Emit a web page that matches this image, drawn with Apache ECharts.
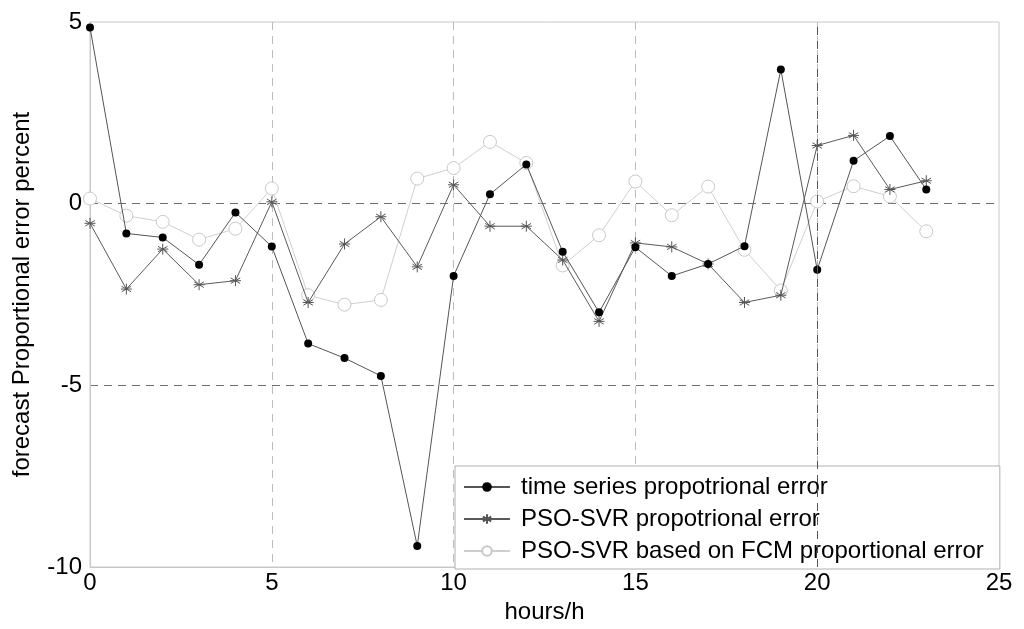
<!DOCTYPE html>
<html><head><meta charset="utf-8">
<script src="https://cdn.jsdelivr.net/npm/echarts@6/dist/echarts.min.js"></script>
<style>html,body{margin:0;padding:0;background:#fff}#c{width:1024px;height:629px}</style>
</head><body><div id="c"></div>
<script>
const hours = [0,1,2,3,4,5,6,7,8,9,10,11,12,13,14,15,16,17,18,19,20,21,22,23];
const timeSeries = [4.85,-0.82,-0.93,-1.68,-0.24,-1.18,-3.85,-4.25,-4.74,-9.42,-1.99,0.26,1.08,-1.32,-2.99,-1.2,-1.99,-1.66,-1.17,3.69,-1.82,1.18,1.86,0.39];
const psoSvr = [-0.54,-2.35,-1.25,-2.23,-2.12,0.05,-2.72,-1.11,-0.36,-1.74,0.52,-0.62,-0.62,-1.55,-3.24,-1.08,-1.19,-1.66,-2.72,-2.52,1.6,1.88,0.39,0.63];
const fcm = [0.14,-0.33,-0.5,-0.99,-0.69,0.42,-2.52,-2.78,-2.65,0.69,0.98,1.7,1.12,-1.7,-0.87,0.61,-0.32,0.47,-1.27,-2.39,0.06,0.48,0.2,-0.76];
const names = ['time series propotrional error','PSO-SVR propotrional error','PSO-SVR based on FCM proportional error'];

const pair = arr => hours.map((h,i)=>[h,arr[i]]);
const star = 'path://M0,-5L0,5M-4.33,-2.5L4.33,2.5M-4.33,2.5L4.33,-2.5M-5,0L5,0';
const font = 'Liberation Sans, Arial, sans-serif';
const fs = 24;

const chart = echarts.init(document.getElementById('c'));
chart.setOption({
  animation:false,
  grid:{left:90,right:25,top:22,bottom:62,show:true,borderColor:'#c8c8c8',borderWidth:1},
  xAxis:{type:'value',min:0,max:25,interval:5,name:'hours/h',nameLocation:'middle',nameGap:28,
    nameTextStyle:{fontFamily:font,fontSize:fs,color:'#000'},
    axisLine:{onZero:false,lineStyle:{color:'#c8c8c8'}},axisTick:{show:false},
    axisLabel:{fontFamily:font,fontSize:fs,color:'#000',margin:4},
    splitLine:{show:true,showMinLine:false,showMaxLine:false,lineStyle:{type:[8,6],color:'#bdbdbd'}}},
  yAxis:{type:'value',min:-10,max:5,interval:5,name:'forecast Proportional error percent',nameLocation:'middle',nameGap:56,
    nameTextStyle:{fontFamily:font,fontSize:fs,color:'#000'},
    axisLine:{show:true,onZero:false,lineStyle:{color:'#c8c8c8'}},axisTick:{show:false},
    axisLabel:{fontFamily:font,fontSize:fs,color:'#000',margin:8},
    splitLine:{show:true,showMinLine:false,showMaxLine:false,lineStyle:{type:[8,6],color:'#707070'}}},
  legend:{orient:'vertical',left:455,top:466,padding:[9,16,6,8],itemGap:8,itemWidth:46,itemHeight:12,
    backgroundColor:'#fff',borderColor:'#b0b0b0',borderWidth:1,borderRadius:0,
    textStyle:{fontFamily:font,fontSize:fs,color:'#000',padding:[0,0,0,6]},data:names},
  series:[
    {name:names[2],type:'line',data:pair(fcm),symbol:'circle',symbolSize:13,showAllSymbol:true,
      lineStyle:{color:'#cfcfcf',width:1},itemStyle:{color:'#fff',borderColor:'#c8c8c8',borderWidth:1},z:2},
    {name:names[1],type:'line',data:pair(psoSvr),symbol:star,symbolSize:11,showAllSymbol:true,
      lineStyle:{color:'#5a5a5a',width:1},itemStyle:{color:'none',borderColor:'#555',borderWidth:1},z:3},
    {name:names[0],type:'line',data:pair(timeSeries),symbol:'circle',symbolSize:8,showAllSymbol:true,
      lineStyle:{color:'#555',width:1},itemStyle:{color:'#000'},z:4,
      markLine:{silent:true,symbol:'none',label:{show:false},lineStyle:{type:[8,6],color:'#555',width:1},data:[{xAxis:20}]}}
  ]
});
</script></body></html>
